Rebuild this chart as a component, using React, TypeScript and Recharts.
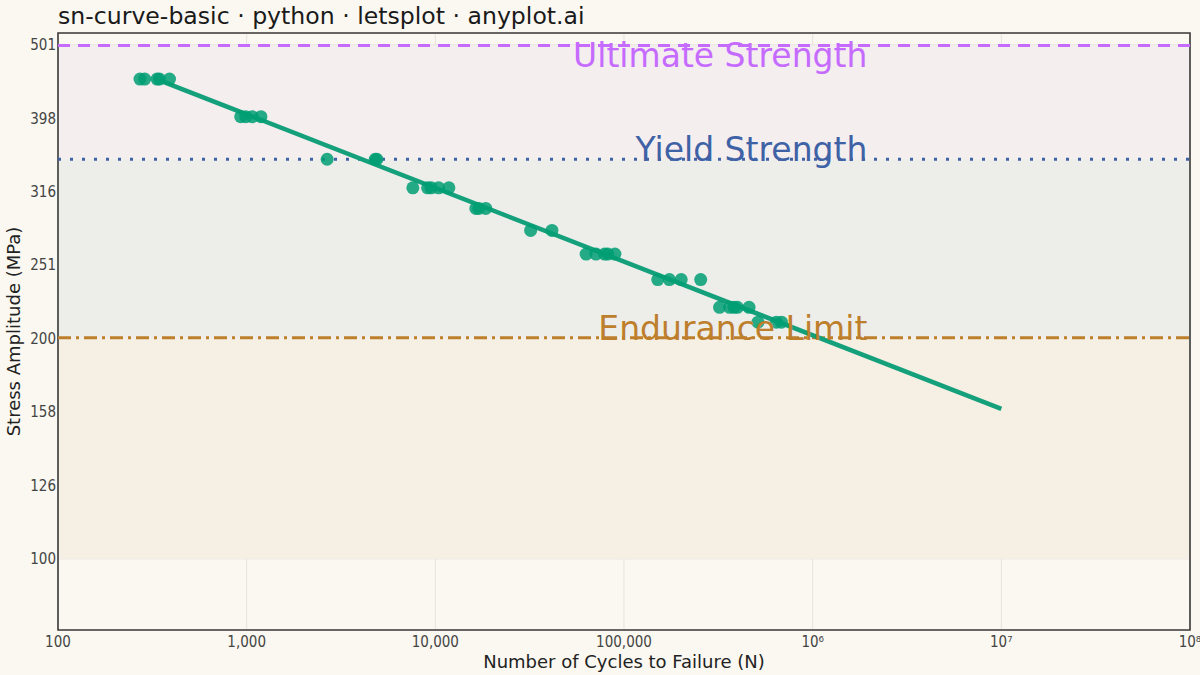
import React from 'react';
import {
  ComposedChart,
  XAxis,
  YAxis,
  CartesianGrid,
  Line,
  Scatter,
  ReferenceArea,
  ReferenceLine,
  ReferenceDot,
} from 'recharts';

// test specimens: cycles to failure and the stress amplitude they ran at
const testCycles = [
  272, 288, 335, 345, 390,
  930, 990, 1070, 1190,
  2670, 4800, 4900,
  7600, 9100, 9500, 10400, 11800,
  16400, 17000, 18500,
  32000, 41500,
  63000, 71000, 79000, 82000, 89500,
  151000, 174000, 201000, 255000,
  321000, 363000, 383000, 399000, 460000,
  513000, 642000, 683000,
];
const testStress = [
  450, 450, 450, 450, 450,
  400, 400, 400, 400,
  350, 350, 350,
  320, 320, 320, 320, 320,
  300, 300, 300,
  280, 280,
  260, 260, 260, 260, 260,
  240, 240, 240, 240,
  220, 220, 220, 220, 220,
  210, 210, 210,
];

// Basquin fit, end points
const fitCycles = [340, 1e7];
const fitStress = [449, 160];

const xTicks = [1e2, 1e3, 1e4, 1e5, 1e6, 1e7, 1e8];
const xTickLabels = ['100', '1,000', '10,000', '100,000', '10⁶', '10⁷', '10⁸'];
const yTicks = [100, 125.9, 158.5, 199.5, 251.2, 316.2, 398.1, 501.2];
const yTickLabels = ['100', '126', '158', '200', '251', '316', '398', '501'];

const limitNames = ['Ultimate Strength', 'Yield Strength', 'Endurance Limit'];
const limitValues = [500, 350, 200];
const limitLabelStress = [484, 361, 206];
const limitLabelCycles = 1.95e6;

const zoneLow = [350, 200, 100];
const zoneHigh = [500, 350, 200];

const BG = '#FAF8F1';
const GREEN = '#009E73';
const limitColors = ['#C66BFF', '#3F62A6', '#BE7F2D'];
const limitDash = ['12 8', '3 9', '13 5 3 5'];
const zoneFills = ['#F4EEEF', '#EDEDEA', '#F5EFE4'];
const FONT = '"DejaVu Sans", sans-serif';
const TICK_FONT = '"DejaVu Sans Condensed", "DejaVu Sans", sans-serif';

const points = testCycles.map((N, i) => ({ N, S: testStress[i] }));
const fit = fitCycles.map((N, i) => ({ N, S: fitStress[i] }));

export default function App() {
  return (
    <div
      style={{
        position: 'absolute',
        left: 0,
        top: 0,
        width: 1200,
        height: 675,
        background: BG,
        fontFamily: FONT,
        overflow: 'hidden',
      }}
    >
      <div
        style={{
          position: 'absolute',
          left: 58,
          top: 1,
          fontSize: 23.6,
          color: '#1a1a1a',
          lineHeight: '30px',
          whiteSpace: 'nowrap',
        }}
      >
        sn-curve-basic · python · letsplot · anyplot.ai
      </div>
      <ComposedChart
        width={1200}
        height={675}
        margin={{ top: 33, right: 10, bottom: 0, left: 8 }}
        style={{ fontFamily: FONT }}
      >
        {zoneLow.map((lo, i) => (
          <ReferenceArea
            key={'z' + i}
            y1={lo}
            y2={zoneHigh[i]}
            fill={zoneFills[i]}
            fillOpacity={1}
            stroke="none"
          />
        ))}
        <CartesianGrid stroke="#E6E3DC" strokeWidth={1} />
        <XAxis
          dataKey="N"
          type="number"
          scale="log"
          domain={[100, 1e8]}
          ticks={xTicks}
          allowDataOverflow
          interval={0}
          height={45}
          tickLine={false}
          axisLine={false}
          tickSize={0}
          tickMargin={6}
          tick={{ fill: '#444', fontSize: 15, fontFamily: TICK_FONT }}
          tickFormatter={(v: number) => xTickLabels[xTicks.indexOf(v)] ?? ''}
          label={{
            value: 'Number of Cycles to Failure (N)',
            position: 'insideBottom',
            offset: 7,
            fill: '#222',
            fontSize: 18,
            fontFamily: FONT,
          }}
        />
        <YAxis
          dataKey="S"
          type="number"
          scale="log"
          domain={[80, 520]}
          ticks={yTicks}
          allowDataOverflow
          interval={0}
          width={50}
          tickLine={false}
          axisLine={false}
          tickSize={0}
          tickMargin={2}
          tick={{ fill: '#444', fontSize: 15, fontFamily: TICK_FONT }}
          tickFormatter={(v: number) => yTickLabels[yTicks.indexOf(v)] ?? ''}
          label={(props: any) => {
            const vb = props.viewBox || {};
            const cx = 13;
            const cy = (vb.y ?? 33) + (vb.height ?? 597) / 2;
            return (
              <text
                x={cx}
                y={cy}
                transform={`rotate(-90, ${cx}, ${cy})`}
                textAnchor="middle"
                dominantBaseline="central"
                fill="#222"
                fontSize={18}
                fontFamily={FONT}
              >
                Stress Amplitude (MPa)
              </text>
            );
          }}
        />
        {limitValues.map((v, i) => (
          <ReferenceLine
            key={'l' + i}
            y={v}
            stroke={limitColors[i]}
            strokeWidth={3}
            strokeDasharray={limitDash[i]}
          />
        ))}
        <Line
          data={fit}
          dataKey="S"
          stroke="#14A07A"
          strokeWidth={4.5}
          dot={false}
          activeDot={false}
          isAnimationActive={false}
        />
        <Scatter
          data={points}
          dataKey="S"
          isAnimationActive={false}
          shape={(p: any) => (
            <circle cx={p.cx} cy={p.cy} r={6.5} fill={GREEN} fillOpacity={0.85} />
          )}
        />
        {limitNames.map((name, i) => (
          <ReferenceDot
            key={'t' + i}
            x={limitLabelCycles}
            y={limitLabelStress[i]}
            r={1}
            fill="none"
            stroke="none"
            label={(props: any) => {
              const vb = props.viewBox || {};
              const x = (vb.x ?? 0) + (vb.width ?? 0) / 2;
              const y = (vb.y ?? 0) + (vb.height ?? 0) / 2;
              return (
                <text
                  x={x}
                  y={y}
                  textAnchor="end"
                  dominantBaseline="central"
                  fill={limitColors[i]}
                  fontSize={33}
                  fontFamily={FONT}
                >
                  {name}
                </text>
              );
            }}
          />
        ))}
        <ReferenceArea
          x1={100}
          x2={1e8}
          y1={80}
          y2={520}
          fill="none"
          stroke="#3a3a3a"
          strokeWidth={1.6}
          ifOverflow="extendDomain"
        />
      </ComposedChart>
    </div>
  );
}
